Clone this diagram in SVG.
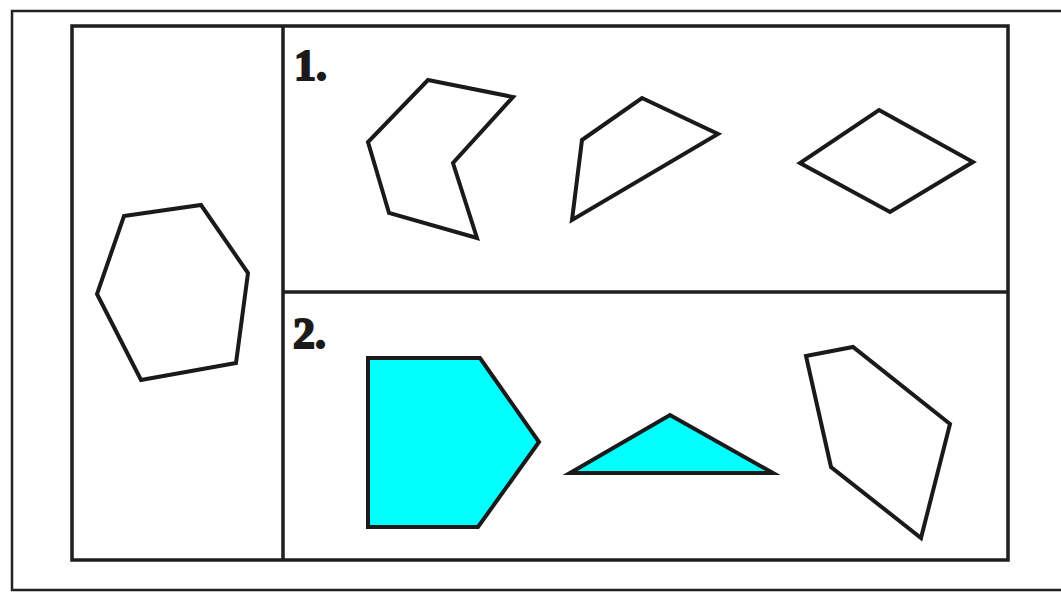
<svg xmlns="http://www.w3.org/2000/svg" width="1061" height="593" viewBox="0 0 1061 593">
  <style>
    .frame { fill: none; stroke: #222; stroke-width: 2.5; }
    .inner { fill: none; stroke: #1e1e1e; stroke-width: 3.5; }
    .shape { fill: none; stroke: #1a1a1a; stroke-width: 4; stroke-linejoin: miter; }
    .filled { fill: #00ffff; stroke: #1a1a1a; stroke-width: 4; stroke-linejoin: miter; }
    .num { font-family: "Liberation Serif", serif; font-weight: bold; font-size: 44px; fill: #1a1a1a; stroke: #1a1a1a; stroke-width: 2; }
  </style>
  <rect x="0" y="0" width="1061" height="593" fill="#ffffff"/>
  <g id="frame">
    <polyline class="frame" points="1062,11 12,11 12,590 1062,590"/>
    <rect class="inner" x="72" y="26" width="936" height="534"/>
    <line class="inner" x1="283" y1="26" x2="283" y2="560"/>
    <line class="inner" x1="283" y1="292" x2="1008" y2="292"/>
  </g>
  <g id="given">
    <polygon class="shape" points="124,216 201,205 248,273 236,363 141,380 97,294"/>
  </g>
  <g id="row1">
    <text class="num" x="294" y="80">1.</text>
    <polygon id="r1a" class="shape" points="428,80 513,97 453,163 477,238 389,213 368,142"/>
    <polygon id="r1b" class="shape" points="642,98 718,134 572,220 582,140"/>
    <polygon id="r1c" class="shape" points="879,110 973,162 890,212 800,163"/>
  </g>
  <g id="row2">
    <text class="num" x="293" y="348">2.</text>
    <polygon id="r2a" class="filled" points="368,358 480,358 539,442 478,527 368,527"/>
    <polygon id="r2b" class="filled" points="570,473 670,415 773,473"/>
    <polygon id="r2c" class="shape" points="806,356 853,347 950,424 921,538 831,467"/>
  </g>
  <g id="connectors"></g>
</svg>
